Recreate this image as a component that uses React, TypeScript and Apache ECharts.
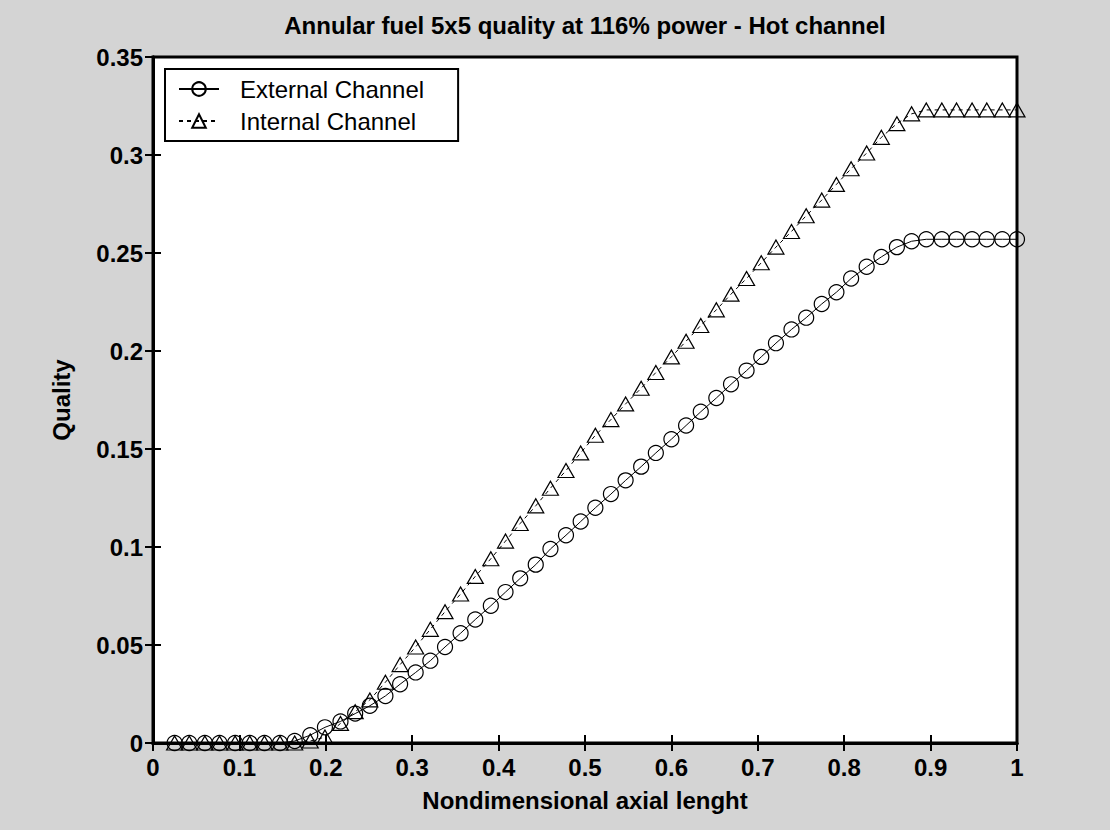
import React, { useEffect, useRef } from "react";
import * as echarts from "echarts";

const titleText = "Annular fuel 5x5 quality at 116% power - Hot channel";
const xName = "Nondimensional axial lenght";
const yName = "Quality";
const seriesNames = ["External Channel", "Internal Channel"];

const axialPos = [
  0.025, 0.042, 0.06, 0.077, 0.095, 0.112, 0.129, 0.147, 0.164, 0.182,
  0.199, 0.217, 0.234, 0.251, 0.269, 0.286, 0.304, 0.321, 0.338, 0.356,
  0.373, 0.391, 0.408, 0.425, 0.443, 0.46, 0.478, 0.495, 0.512, 0.53,
  0.547, 0.565, 0.582, 0.6, 0.617, 0.634, 0.652, 0.669, 0.687, 0.704,
  0.721, 0.739, 0.756, 0.774, 0.791, 0.808, 0.826, 0.843, 0.861, 0.878,
  0.895, 0.913, 0.93, 0.948, 0.965, 0.983, 1.0,
];

const externalQuality = [
  0, 0, 0, 0, 0, 0, 0, 0, 0.001, 0.004,
  0.008, 0.011, 0.015, 0.019, 0.024, 0.03, 0.036, 0.042, 0.049, 0.056,
  0.063, 0.07, 0.077, 0.084, 0.091, 0.099, 0.106, 0.113, 0.12, 0.127,
  0.134, 0.141, 0.148, 0.155, 0.162, 0.169, 0.176, 0.183, 0.19, 0.197,
  0.204, 0.211, 0.217, 0.224, 0.23, 0.237, 0.243, 0.248, 0.253, 0.256,
  0.257, 0.257, 0.257, 0.257, 0.257, 0.257, 0.257,
];

const internalQuality = [
  0, 0, 0, 0, 0, 0, 0, 0, 0, 0.001,
  0.003, 0.01, 0.016, 0.022, 0.031, 0.04, 0.049, 0.058, 0.067, 0.076,
  0.085, 0.094, 0.103, 0.112, 0.121, 0.13, 0.139, 0.148, 0.157, 0.165,
  0.173, 0.181, 0.189, 0.197, 0.205, 0.213, 0.221, 0.229, 0.237, 0.245,
  0.253, 0.261, 0.269, 0.277, 0.285, 0.293, 0.301, 0.309, 0.316, 0.321,
  0.323, 0.323, 0.323, 0.323, 0.323, 0.323, 0.323,
];

const FONT = "'Liberation Sans', Arial, sans-serif";

export default function App() {
  const ref = useRef<HTMLDivElement>(null);

  useEffect(() => {
    if (!ref.current) return;
    const chart = echarts.init(ref.current, undefined, { renderer: "svg" });

    const extData = axialPos.map((x, i) => [x, externalQuality[i]]);
    const intData = axialPos.map((x, i) => [x, internalQuality[i]]);

    const tickLabel = {
      color: "#000",
      fontFamily: FONT,
      fontSize: 24,
      fontWeight: "bold" as const,
    };

    const axisLine = { show: true, lineStyle: { color: "#000", width: 3 } };
    const axisTick = { show: true, inside: true, length: 8, lineStyle: { color: "#000", width: 2 } };

    const option: any = {
      animation: false,
      backgroundColor: "#d4d4d4",
      title: {
        text: titleText,
        left: 585,
        textAlign: "center",
        top: 13,
        padding: 0,
        textStyle: {
          color: "#000",
          fontFamily: FONT,
          fontSize: 24,
          fontWeight: "bold",
        },
      },
      grid: {
        left: 153,
        right: 93,
        top: 57,
        bottom: 87,
        show: true,
        backgroundColor: "#ffffff",
        borderColor: "#000",
        borderWidth: 3,
      },
      legend: {
        orient: "vertical",
        left: 165,
        top: 69,
        padding: [8, 34, 8, 13],
        itemGap: 8,
        itemWidth: 40,
        itemHeight: 17,
        backgroundColor: "#ffffff",
        borderColor: "#000",
        borderWidth: 2,
        textStyle: {
          color: "#000",
          fontFamily: FONT,
          fontSize: 24,
          padding: [0, 0, 0, 16],
        },
        data: seriesNames,
      },
      xAxis: [
        {
          type: "value",
          min: 0,
          max: 1,
          interval: 0.1,
          position: "bottom",
          name: xName,
          nameLocation: "middle",
          nameGap: 45,
          nameTextStyle: {
            color: "#000",
            fontFamily: FONT,
            fontSize: 24,
            fontWeight: "bold",
          },
          axisLine,
          axisTick,
          axisLabel: { ...tickLabel, margin: 12 },
          splitLine: { show: false },
        },
        {
          type: "value",
          min: 0,
          max: 1,
          interval: 0.1,
          position: "top",
          axisLine,
          axisTick,
          axisLabel: { show: false },
          splitLine: { show: false },
        },
      ],
      yAxis: [
        {
          type: "value",
          min: 0,
          max: 0.35,
          interval: 0.05,
          position: "left",
          name: yName,
          nameLocation: "middle",
          nameGap: 80,
          nameTextStyle: {
            color: "#000",
            fontFamily: FONT,
            fontSize: 24,
            fontWeight: "bold",
          },
          axisLine,
          axisTick,
          axisLabel: { ...tickLabel, margin: 10 },
          splitLine: { show: false },
        },
        {
          type: "value",
          min: 0,
          max: 0.35,
          interval: 0.05,
          position: "right",
          axisLine,
          axisTick,
          axisLabel: { show: false },
          splitLine: { show: false },
        },
      ],
      series: [
        {
          name: seriesNames[0],
          type: "line",
          xAxisIndex: 0,
          yAxisIndex: 0,
          data: extData,
          symbol: "circle",
          symbolSize: 15,
          showAllSymbol: true,
          lineStyle: { color: "#000", width: 1, type: "solid" },
          itemStyle: { color: "rgba(0,0,0,0)", borderColor: "#000", borderWidth: 1.2 },
          emphasis: { disabled: true },
        },
        {
          name: seriesNames[1],
          type: "line",
          xAxisIndex: 0,
          yAxisIndex: 0,
          data: intData,
          symbol: "triangle",
          symbolSize: [16, 14],
          showAllSymbol: true,
          lineStyle: { color: "#000", width: 1, type: [4, 4] },
          itemStyle: { color: "rgba(0,0,0,0)", borderColor: "#000", borderWidth: 1.2 },
          emphasis: { disabled: true },
        },
      ],
    };

    chart.setOption(option);
    return () => chart.dispose();
  }, []);

  return (
    <div
      ref={ref}
      style={{ position: "fixed", left: 0, top: 0, width: 1110, height: 830 }}
    />
  );
}
